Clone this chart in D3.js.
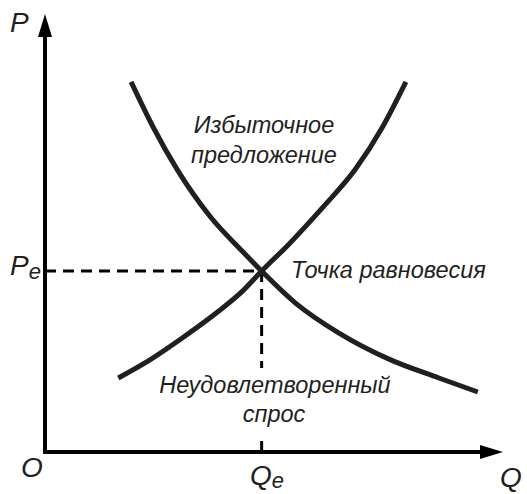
<!DOCTYPE html>
<html>
<head>
<meta charset="utf-8">
<script src="https://cdn.jsdelivr.net/npm/d3@7"></script>
<style>
  body { margin: 0; background: #fff; }
  text { font-family: "Liberation Sans", Arial, sans-serif; font-style: italic; fill: #231f20; }
</style>
</head>
<body>
<svg width="527" height="494"></svg>
<script>
// curve points, in axis units (0..10)
var demandQ = [1.88, 2.36, 2.89, 3.61, 4.33, 4.73, 5.47, 6.41, 7.51, 8.60, 9.45];
var demandP = [8.45, 7.42, 6.44, 5.37, 4.56, 4.13, 3.40, 2.72, 2.12, 1.69, 1.37];
var supplyQ = [1.60, 2.30, 3.02, 3.76, 4.33, 4.73, 5.32, 6.06, 6.78, 7.37, 7.88];
var supplyP = [1.69, 2.11, 2.62, 3.19, 3.69, 4.13, 4.74, 5.58, 6.46, 7.42, 8.45];
var equilibrium = [4.73, 4.13];

var svg = d3.select("svg");

var x = d3.scaleLinear().domain([0, 10]).range([45, 503]),
    y = d3.scaleLinear().domain([0, 10]).range([452, 14]);

var ink = "#231f20";

var line = d3.line()
    .x(function(d) { return x(d[0]); })
    .y(function(d) { return y(d[1]); })
    .curve(d3.curveMonotoneX);

// dashed guides to the axes
svg.append("line")
    .attr("x1", x(0)).attr("x2", x(equilibrium[0]))
    .attr("y1", y(equilibrium[1])).attr("y2", y(equilibrium[1]))
    .attr("stroke", "#000").attr("stroke-width", 3)
    .attr("stroke-dasharray", "11,7");

svg.append("line")
    .attr("x1", x(equilibrium[0])).attr("x2", x(equilibrium[0]))
    .attr("y1", y(equilibrium[1])).attr("y2", 368)
    .attr("stroke", "#000").attr("stroke-width", 3)
    .attr("stroke-dasharray", "11,7");

// tick for Qe
svg.append("line")
    .attr("x1", x(equilibrium[0])).attr("x2", x(equilibrium[0]))
    .attr("y1", y(0) - 11).attr("y2", y(0))
    .attr("stroke", "#000").attr("stroke-width", 3);

// axes
svg.append("line")
    .attr("x1", x(0)).attr("x2", x(10) - 20)
    .attr("y1", y(0)).attr("y2", y(0))
    .attr("stroke", "#000").attr("stroke-width", 4);

svg.append("line")
    .attr("x1", x(0)).attr("x2", x(0))
    .attr("y1", y(0) + 2).attr("y2", y(10) + 20)
    .attr("stroke", "#000").attr("stroke-width", 4);

svg.append("path")
    .attr("d", "M" + x(10) + "," + y(0) + "L" + (x(10) - 23) + "," + (y(0) - 7) + "L" + (x(10) - 23) + "," + (y(0) + 7) + "Z")
    .attr("fill", "#000");

svg.append("path")
    .attr("d", "M" + x(0) + "," + y(10) + "L" + (x(0) - 7) + "," + (y(10) + 23) + "L" + (x(0) + 7) + "," + (y(10) + 23) + "Z")
    .attr("fill", "#000");

// curves
svg.append("path")
    .datum(d3.zip(demandQ, demandP))
    .attr("d", line)
    .attr("fill", "none").attr("stroke", ink).attr("stroke-width", 5);

svg.append("path")
    .datum(d3.zip(supplyQ, supplyP))
    .attr("d", line)
    .attr("fill", "none").attr("stroke", ink).attr("stroke-width", 5);

// labels
function label(tx, ty, size, anchor, str) {
  return svg.append("text")
      .attr("x", tx).attr("y", ty)
      .attr("font-size", size)
      .attr("text-anchor", anchor || "start")
      .text(str);
}

label(264, 133, 23.5, "middle", "Избыточное");
label(264, 163, 23.5, "middle", "предложение");
label(291, 278, 23.5, "start", "Точка равновесия");
label(275, 393, 23.5, "middle", "Неудовлетворенный");
label(274, 422, 23.5, "middle", "спрос");

label(10, 32, 28, "start", "P");
var pe = label(10, 275, 28, "start", "P");
pe.append("tspan").attr("font-size", 22).attr("dy", 4).text("e");
label(21, 477, 28, "start", "O");
var qe = label(250, 485, 28, "start", "Q");
qe.append("tspan").attr("font-size", 22).attr("dy", 3).text("e");
label(500, 487, 28, "start", "Q");
</script>
</body>
</html>
